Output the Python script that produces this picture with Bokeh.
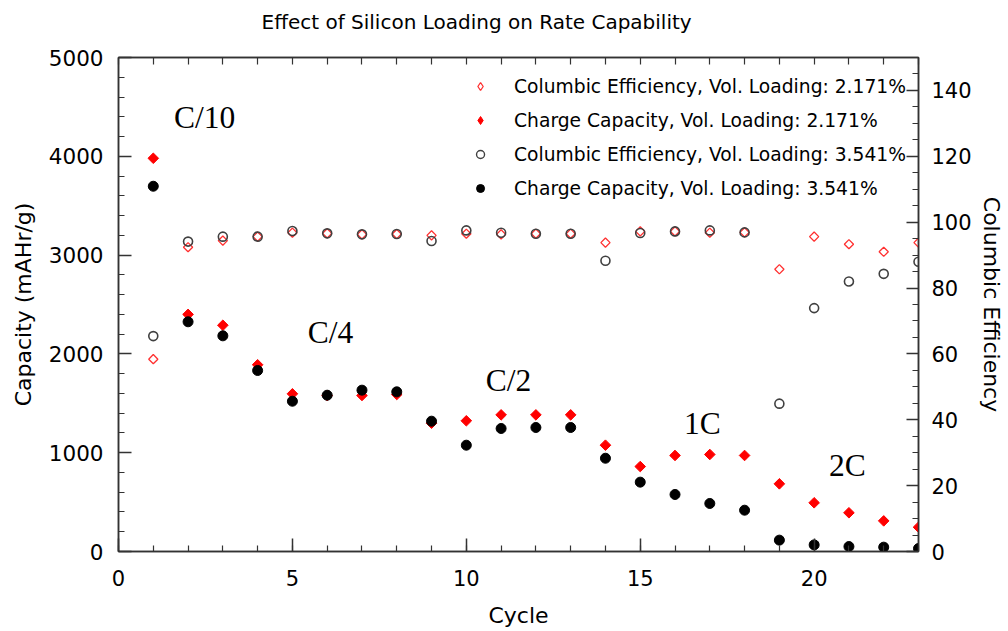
import numpy as np
from bokeh.plotting import figure
from bokeh.models import (Range1d, LinearAxis, Label, Legend, LegendItem, SingleIntervalTicker,
                          FixedTicker, ColumnDataSource)
from bokeh.embed import file_html
from bokeh.resources import INLINE

cycles = list(range(1, 24))
cap_2171 = [3980, 2400, 2290, 1890, 1596, 1578, 1579, 1589, 1299, 1323, 1383, 1383, 1383,
            1076, 860, 972, 982, 972, 685, 493, 392, 310, 246]
cap_3541 = [3697, 2325, 2183, 1832, 1521, 1582, 1633, 1616, 1319, 1076, 1245, 1255, 1255,
            944, 702, 577, 486, 418, 115, 67, 50, 44, 30]
ce_2171 = [58.4, 92.4, 94.4, 95.6, 96.8, 96.6, 96.3, 96.4, 96.0, 96.5, 96.3, 96.5, 96.5,
           93.8, 97.2, 97.2, 96.8, 96.9, 85.7, 95.6, 93.3, 91.0, 93.8]
ce_3541 = [65.4, 94.1, 95.6, 95.6, 97.3, 96.6, 96.3, 96.4, 94.3, 97.5, 96.8, 96.5, 96.5,
           88.3, 96.7, 97.2, 97.5, 96.9, 44.9, 73.9, 82.0, 84.3, 88.0]

title_text = "Effect of Silicon Loading on Rate Capability"
rate_labels = ["C/10", "C/4", "C/2", "1C", "2C"]
legend_labels = ["Columbic Efficiency, Vol. Loading: 2.171%",
                 "Charge Capacity, Vol. Loading: 2.171%",
                 "Columbic Efficiency, Vol. Loading: 3.541%",
                 "Charge Capacity, Vol. Loading: 3.541%"]

FONT = "DejaVu Sans"
AX = "#333333"

p = figure(width=1006, height=631, x_range=Range1d(0, 23), y_range=Range1d(0, 5000),
           output_backend="svg", toolbar_location=None,
           min_border_left=118, min_border_right=88, min_border_top=57, min_border_bottom=80)
p.extra_y_ranges = {"ce": Range1d(0, 150)}
p.xgrid.visible = False
p.ygrid.visible = False
p.outline_line_color = AX
p.outline_line_width = 1.5
p.background_fill_color = "white"
p.border_fill_color = "white"


def style_axis(ax, major_in=13, minor_in=6):
    ax.axis_line_color = AX
    ax.axis_line_width = 1.5
    ax.major_tick_line_color = AX
    ax.minor_tick_line_color = AX
    ax.major_tick_line_width = 1.5
    ax.minor_tick_line_width = 1.2
    ax.major_tick_in = major_in
    ax.major_tick_out = 0
    ax.minor_tick_in = minor_in
    ax.minor_tick_out = 0
    ax.major_label_text_font = FONT
    ax.major_label_text_font_size = "21px"
    ax.major_label_text_color = "black"
    ax.axis_label_text_font = FONT
    ax.axis_label_text_font_size = "22px"
    ax.axis_label_text_font_style = "normal"
    ax.axis_label_text_color = "black"


xa = p.xaxis[0]
xa.ticker = SingleIntervalTicker(interval=5, num_minor_ticks=5)
xa.axis_label = "Cycle"
style_axis(xa)
xa.major_label_standoff = 18
xa.axis_label_standoff = 14

ya = p.yaxis[0]
ya.ticker = SingleIntervalTicker(interval=1000, num_minor_ticks=5)
ya.axis_label = "Capacity (mAHr/g)"
style_axis(ya)
ya.major_label_text_font_size = "21.5px"
ya.major_label_standoff = 15
ya.axis_label_standoff = 10

ra = LinearAxis(y_range_name="ce", axis_label="Columbic Efficiency",
                ticker=SingleIntervalTicker(interval=20, num_minor_ticks=4))
style_axis(ra, 12, 6)
ra.major_label_standoff = 13
ra.axis_label_standoff = 4
p.add_layout(ra, "right")

# top edge: tick marks only (no labels)
ta = LinearAxis(ticker=FixedTicker(ticks=[], minor_ticks=list(range(0, 24))))
style_axis(ta, 10, 7)
p.add_layout(ta, "above")

src = ColumnDataSource(dict(x=cycles, c1=cap_2171, c2=cap_3541, e1=ce_2171, e2=ce_3541))

r_e1 = p.scatter("x", "e1", source=src, y_range_name="ce", marker="square", angle=np.pi / 4,
                 size=6.5, fill_alpha=0, line_color="#ff3030", line_width=1.3)
r_c1 = p.scatter("x", "c1", source=src, marker="square", angle=np.pi / 4,
                 size=7.5, fill_color="#ff0000", line_color="#ff0000", line_width=1)
r_e2 = p.scatter("x", "e2", source=src, y_range_name="ce", marker="circle",
                 size=9, fill_alpha=0, line_color="#404040", line_width=1.6)
r_c2 = p.scatter("x", "c2", source=src, marker="circle",
                 size=10, fill_color="black", line_color="black")

# legend-key glyphs only (a single NaN row, so nothing is plotted)
key = ColumnDataSource(dict(x=[np.nan], y=[np.nan]))
k_e1 = p.scatter("x", "y", source=key, marker="diamond", size=10, fill_alpha=0,
                 line_color="#ff3030", line_width=1.3)
k_c1 = p.scatter("x", "y", source=key, marker="diamond", size=10, fill_color="#ff0000",
                 line_color="#ff0000")
k_e2 = p.scatter("x", "y", source=key, marker="circle", size=8, fill_alpha=0,
                 line_color="#404040", line_width=1.4)
k_c2 = p.scatter("x", "y", source=key, marker="circle", size=9, fill_color="black",
                 line_color="black")

legend = Legend(items=[LegendItem(label=lab, renderers=[r])
                       for lab, r in zip(legend_labels, [k_e1, k_c1, k_e2, k_c2])],
                location="top_right")
legend.border_line_alpha = 0
legend.background_fill_alpha = 0
legend.label_text_font = FONT
legend.label_text_font_size = "18.7px"
legend.label_text_color = "black"
legend.label_height = 34
legend.glyph_height = 34
legend.glyph_width = 20
legend.label_standoff = 24
legend.spacing = 0
legend.padding = 8
legend.margin = 4
p.add_layout(legend)

label_pos = [(1.595, 4396), (5.44, 2220), (10.56, 1731), (16.26, 1292), (20.43, 870)]
for txt, (lx, ly) in zip(rate_labels, label_pos):
    p.add_layout(Label(x=lx, y=ly, text=txt, text_font="Liberation Serif",
                       text_font_size="31.5px", text_color="black", text_baseline="alphabetic"))

# chart title, in the panel above the frame
p.add_layout(Label(x=143, y=36, x_units="screen", y_units="screen", text=title_text,
                   text_font=FONT, text_font_size="20px", text_color="black",
                   text_baseline="alphabetic"), "above")

open("out.html", "w").write(file_html(p, INLINE))
